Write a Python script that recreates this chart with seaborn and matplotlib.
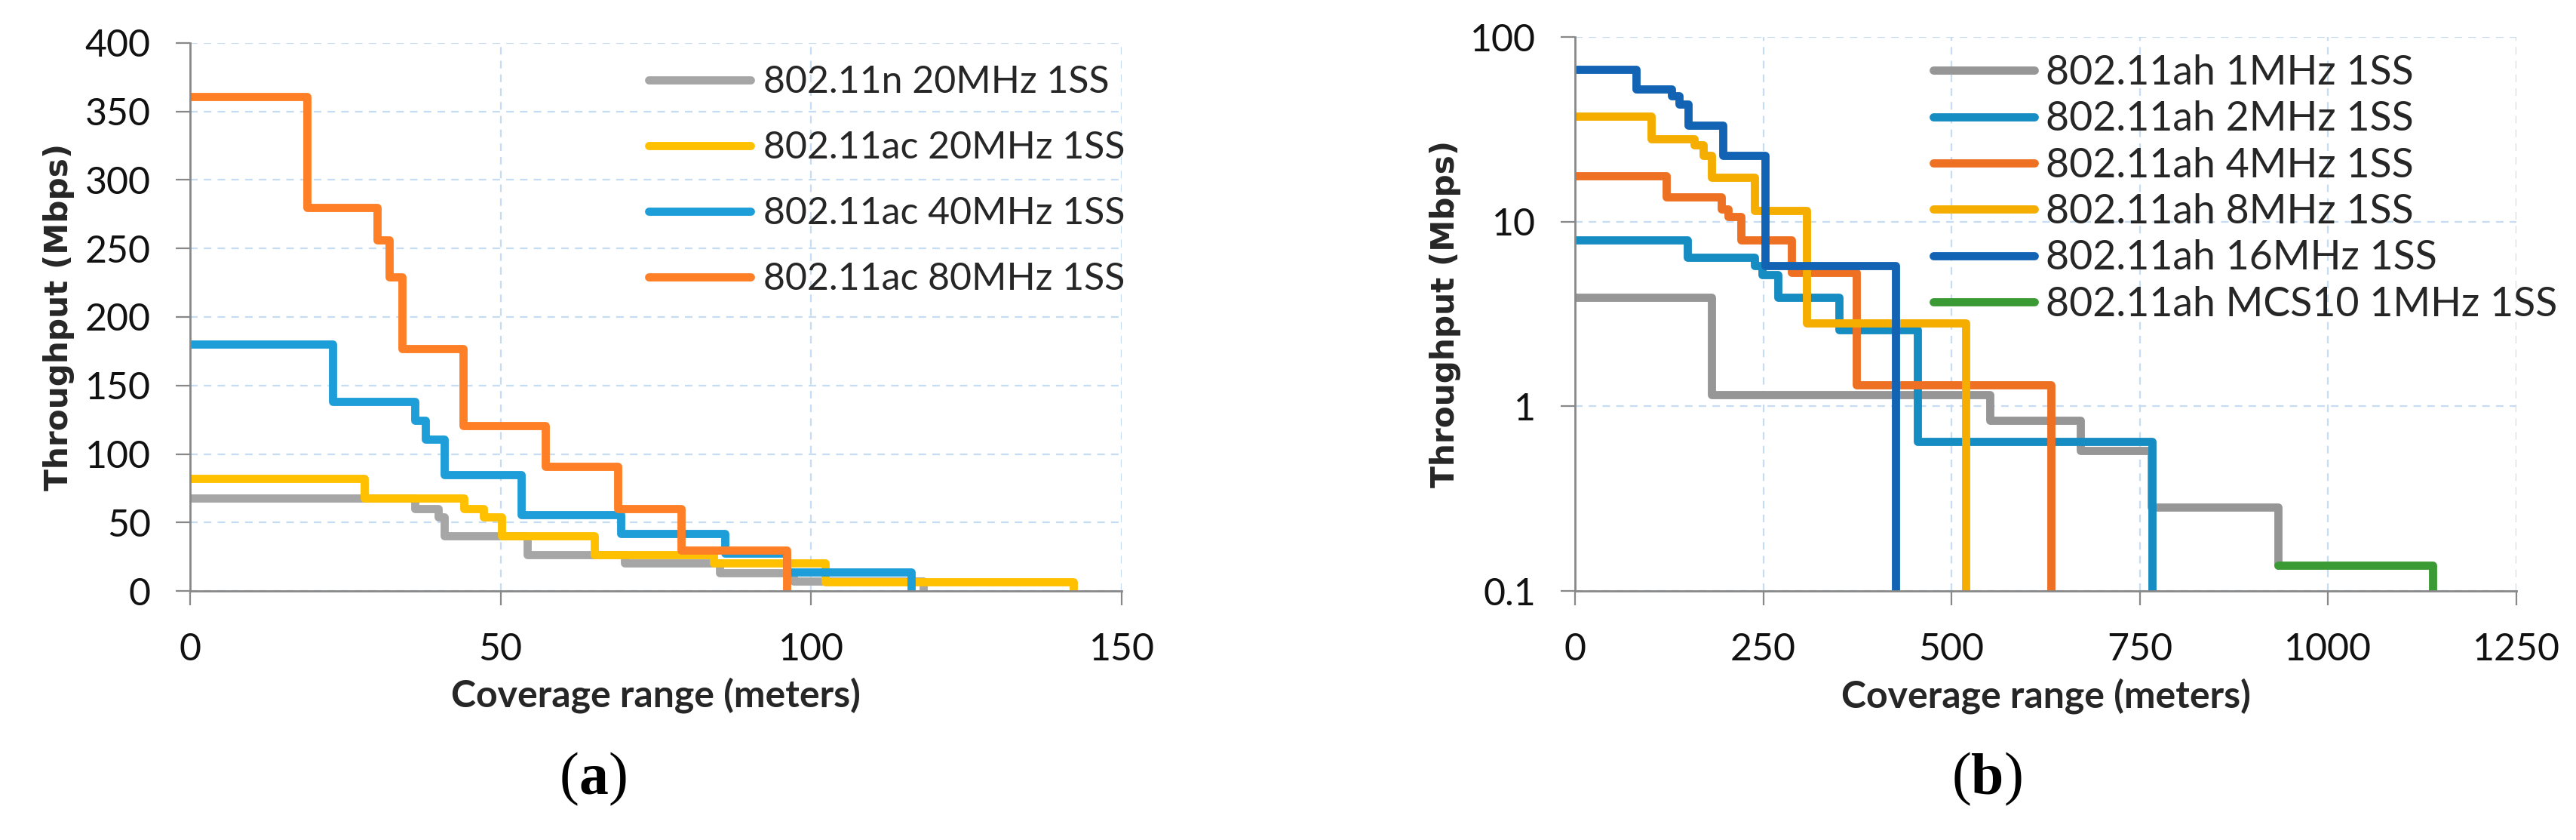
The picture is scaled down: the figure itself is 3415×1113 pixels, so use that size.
import matplotlib
matplotlib.use("Agg")
import matplotlib.pyplot as plt
from matplotlib.ticker import NullLocator
from matplotlib.offsetbox import TextArea, HPacker, AnchoredOffsetbox
import pandas as pd
import seaborn as sns

# ---- data (step curves: value holds from x until next x)
a_names = ["802.11n 20MHz 1SS", "802.11ac 20MHz 1SS", "802.11ac 40MHz 1SS", "802.11ac 80MHz 1SS"]
a_colors = ["#a6a6a6", "#ffc000", "#1e9ed9", "#ff7f27"]
n20_x = [0, 36.2, 39.9, 40.9, 54.3, 70.0, 85.3, 97.2, 118.0]
n20_y = [68, 60, 54, 40, 26.5, 20.3, 13, 7, 0]
ac20_x = [0, 28.1, 44.1, 47.2, 50.2, 65.1, 84.3, 102.3, 142.2]
ac20_y = [82, 68, 60, 54, 40, 26.5, 20.3, 6.8, 0]
ac40_x = [0, 23.0, 36.2, 37.9, 40.9, 53.3, 69.3, 86.1, 96.1, 116.1]
ac40_y = [180, 138.5, 124.5, 111, 85, 55.6, 41.6, 27.5, 14, 0]
ac80_x = [0, 18.8, 30.1, 32.1, 34.1, 44.0, 57.2, 68.9, 79.1, 96.1]
ac80_y = [361, 280, 256, 229, 177, 120.5, 91, 60, 29.5, 0]

b_names = ["802.11ah 1MHz 1SS", "802.11ah 2MHz 1SS", "802.11ah 4MHz 1SS",
           "802.11ah 8MHz 1SS", "802.11ah 16MHz 1SS", "802.11ah MCS10 1MHz 1SS"]
b_colors = ["#969696", "#168dc2", "#ee7022", "#f5ad00", "#1363b4", "#3a9a33"]
ah1_x = [0, 181, 551, 671, 765, 933]
ah1_y = [3.9, 1.15, 0.84, 0.578, 0.284, 0.138]
ah2_x = [0, 149.2, 238.2, 248.5, 269, 350.3, 455.2, 766]
ah2_y = [7.94, 6.43, 5.8, 5.18, 3.9, 2.6, 0.643, 0.1]
ah4_x = [0, 120.9, 194.4, 203.2, 220.2, 287, 373.5, 632]
ah4_y = [17.7, 13.6, 11.7, 10.6, 7.94, 5.3, 1.31, 0.1]
ah8_x = [0, 100.8, 158.4, 170.3, 181.6, 238.2, 307.6, 519]
ah8_y = [37.1, 28.1, 26.0, 22.9, 17.3, 11.5, 2.82, 0.1]
ah16_x = [0, 81.3, 128.6, 137.9, 150.7, 196, 252, 426]
ah16_y = [66.5, 52, 48.2, 43.4, 33.2, 22.9, 5.8, 0.1]
mcs10_x = [933, 1139]
mcs10_y = [0.138, 0.1]

a_ticks_x = [0, 50, 100, 150]
a_ticks_y = [0, 50, 100, 150, 200, 250, 300, 350, 400]
b_ticks_x = [0, 250, 500, 750, 1000, 1250]
b_ticks_y = [0.1, 1, 10, 100]
b_tick_labels = ["0.1", "1", "10", "100"]


def long_df(names, xs, ys):
	rows = []
	for name, x, y in zip(names, xs, ys):
		for xi, yi in zip(x, y):
			rows.append({"series": name, "x": xi, "y": yi})
	return pd.DataFrame(rows)


df_a = long_df(a_names, [n20_x, ac20_x, ac40_x, ac80_x], [n20_y, ac20_y, ac40_y, ac80_y])
df_b = long_df(b_names, [ah1_x, ah2_x, ah4_x, ah8_x, ah16_x, mcs10_x],
               [ah1_y, ah2_y, ah4_y, ah8_y, ah16_y, mcs10_y])

sns.set_theme(style="white")
plt.rcParams["font.family"] = ["Lato", "DejaVu Sans"]

W, H = 3415, 1113
fig = plt.figure(figsize=(W / 200, H / 200), dpi=200)
ax1 = fig.add_axes([252 / W, (H - 783) / H, (1487 - 252) / W, (783 - 57) / H])
ax2 = fig.add_axes([2088 / W, (H - 783) / H, (3336 - 2088) / W, (783 - 49) / H])

line_kw = dict(drawstyle="steps-post", linewidth=3.9, solid_joinstyle="round",
               solid_capstyle="round", estimator=None, sort=False, legend=False)

sns.lineplot(data=df_a, x="x", y="y", hue="series", palette=a_colors, ax=ax1, **line_kw)
sns.lineplot(data=df_b, x="x", y="y", hue="series", palette=b_colors, ax=ax2, **line_kw)

ax2.set_yscale("log")
ax1.set_xlim(0, 150)
ax1.set_ylim(0, 400)
ax2.set_xlim(0, 1250)
ax2.set_ylim(0.1, 100)
ax1.set_xticks(a_ticks_x)
ax1.set_yticks(a_ticks_y)
ax2.set_xticks(b_ticks_x)
ax2.set_yticks(b_ticks_y)
ax2.set_yticklabels(b_tick_labels)
ax2.yaxis.set_minor_locator(NullLocator())

for ax in (ax1, ax2):
	ax.set_axisbelow(True)
	ax.grid(True, color="#c5dcf3", linestyle=(0, (4.5, 3.7)), linewidth=0.8)
	for s in ("top", "right"):
		ax.spines[s].set_visible(False)
	for s in ("left", "bottom"):
		ax.spines[s].set_color("#888888")
		ax.spines[s].set_linewidth(1.0)
	ax.tick_params(direction="out", length=6.8, width=0.8, color="#888888",
	               labelsize=18, labelcolor="#111111", pad=12, left=True, bottom=True)
	ax.tick_params(axis="x", pad=13)
	ax.set_xlabel("Coverage range (meters)", fontsize=18, fontweight="bold", family=["Lato", "DejaVu Sans"])
	ax.set_ylabel("Throughput (Mbps)", fontsize=15.2, fontweight="bold", family="DejaVu Sans")

ax1.xaxis.set_label_coords(0.5, -0.157)
ax2.xaxis.set_label_coords(0.5, -0.157)
ax1.yaxis.set_label_coords(-0.124, 0.5)
ax2.yaxis.set_label_coords(-0.121, 0.5)

leg1 = ax1.legend(handles=ax1.get_lines()[:4], labels=a_names, loc="upper left",
                  bbox_to_anchor=(860 / W, 1 - 86 / H), bbox_transform=fig.transFigure,
                  frameon=False, fontsize=18, handlelength=2.7, handletextpad=0.34,
                  labelspacing=0.82, borderpad=0, borderaxespad=0)
leg2 = ax2.legend(handles=ax2.get_lines()[:6], labels=b_names, loc="upper left",
                  bbox_to_anchor=(2563 / W, 1 - 72 / H), bbox_transform=fig.transFigure,
                  frameon=False, fontsize=19.3, handlelength=2.5, handletextpad=0.28,
                  labelspacing=0.23, borderpad=0, borderaxespad=0)

# panel captions "(a)" and "(b)" with a bold letter
for letter, cx in (("a", 787), ("b", 2635)):
	serif = dict(family="Liberation Serif", size=28, color="black")
	box = HPacker(children=[TextArea("(", textprops=serif),
	                        TextArea(letter, textprops=dict(serif, weight="bold")),
	                        TextArea(")", textprops=serif)], pad=0, sep=0, align="baseline")
	anchored = AnchoredOffsetbox(loc="center", child=box, pad=0, borderpad=0, frameon=False,
	                             bbox_to_anchor=(cx / W, 1 - 1033 / H), bbox_transform=fig.transFigure)
	fig.add_artist(anchored)

fig.savefig("out.png", dpi=200)
